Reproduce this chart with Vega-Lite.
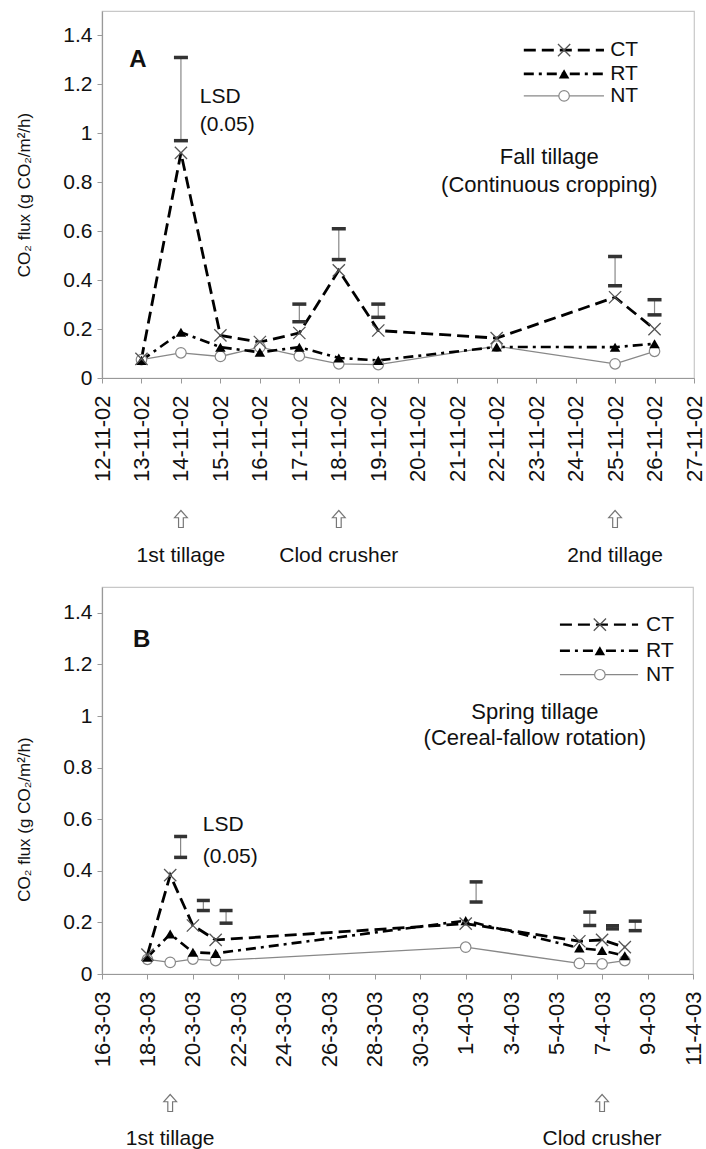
{
  "$schema": "https://vega.github.io/schema/vega-lite/v6.json",
  "padding": {"left": 15, "top": 10, "right": 5, "bottom": 0},
  "spacing": 19,
  "resolve": {"scale": {"x": "independent", "y": "independent"}},
  "config": {
    "font": "Liberation Sans",
    "view": {"stroke": "#c8c8c8", "strokeWidth": 1.2},
    "axis": {"domainColor": "#999999", "domainWidth": 1.2, "tickColor": "#999999", "labelColor": "#111111", "titleColor": "#111111", "titleFontWeight": "normal", "grid": false, "labelFont": "Liberation Sans", "titleFont": "Liberation Sans"},
    "axisX": {"labelOverlap": false, "labelSeparation": 0, "labelBound": false},
    "text": {"font": "Liberation Sans", "color": "#111111"}
  },
  "datasets": {
    "fluxA": [
      {"date": "2002-11-13T00:00", "series": "CT", "flux": 0.078},
      {"date": "2002-11-14T00:00", "series": "CT", "flux": 0.92},
      {"date": "2002-11-15T00:00", "series": "CT", "flux": 0.174},
      {"date": "2002-11-16T00:00", "series": "CT", "flux": 0.147},
      {"date": "2002-11-17T00:00", "series": "CT", "flux": 0.184},
      {"date": "2002-11-18T00:00", "series": "CT", "flux": 0.44},
      {"date": "2002-11-19T00:00", "series": "CT", "flux": 0.194},
      {"date": "2002-11-22T00:00", "series": "CT", "flux": 0.163},
      {"date": "2002-11-25T00:00", "series": "CT", "flux": 0.33},
      {"date": "2002-11-26T00:00", "series": "CT", "flux": 0.2},
      {"date": "2002-11-13T00:00", "series": "RT", "flux": 0.072},
      {"date": "2002-11-14T00:00", "series": "RT", "flux": 0.187},
      {"date": "2002-11-15T00:00", "series": "RT", "flux": 0.126},
      {"date": "2002-11-16T00:00", "series": "RT", "flux": 0.105},
      {"date": "2002-11-17T00:00", "series": "RT", "flux": 0.126},
      {"date": "2002-11-18T00:00", "series": "RT", "flux": 0.082},
      {"date": "2002-11-19T00:00", "series": "RT", "flux": 0.072},
      {"date": "2002-11-22T00:00", "series": "RT", "flux": 0.127},
      {"date": "2002-11-25T00:00", "series": "RT", "flux": 0.126},
      {"date": "2002-11-26T00:00", "series": "RT", "flux": 0.14},
      {"date": "2002-11-13T00:00", "series": "NT", "flux": 0.075},
      {"date": "2002-11-14T00:00", "series": "NT", "flux": 0.103},
      {"date": "2002-11-15T00:00", "series": "NT", "flux": 0.088},
      {"date": "2002-11-16T00:00", "series": "NT", "flux": 0.126},
      {"date": "2002-11-17T00:00", "series": "NT", "flux": 0.09},
      {"date": "2002-11-18T00:00", "series": "NT", "flux": 0.058},
      {"date": "2002-11-19T00:00", "series": "NT", "flux": 0.055},
      {"date": "2002-11-22T00:00", "series": "NT", "flux": 0.13},
      {"date": "2002-11-25T00:00", "series": "NT", "flux": 0.058},
      {"date": "2002-11-26T00:00", "series": "NT", "flux": 0.109}
    ],
    "lsdA": [
      {"date": "2002-11-14T00:00", "lo": 0.97, "hi": 1.31},
      {"date": "2002-11-17T00:00", "lo": 0.23, "hi": 0.302},
      {"date": "2002-11-18T00:00", "lo": 0.484, "hi": 0.61},
      {"date": "2002-11-19T00:00", "lo": 0.248, "hi": 0.302},
      {"date": "2002-11-25T00:00", "lo": 0.377, "hi": 0.497},
      {"date": "2002-11-26T00:00", "lo": 0.258, "hi": 0.32}
    ],
    "eventsA": [
      {"date": "2002-11-14T00:00", "label": "1st tillage"},
      {"date": "2002-11-18T00:00", "label": "Clod crusher"},
      {"date": "2002-11-25T00:00", "label": "2nd tillage"}
    ],
    "fluxB": [
      {"date": "2003-03-18T00:00", "series": "CT", "flux": 0.075},
      {"date": "2003-03-19T00:00", "series": "CT", "flux": 0.383},
      {"date": "2003-03-20T00:00", "series": "CT", "flux": 0.188},
      {"date": "2003-03-21T00:00", "series": "CT", "flux": 0.132},
      {"date": "2003-04-01T00:00", "series": "CT", "flux": 0.195},
      {"date": "2003-04-06T00:00", "series": "CT", "flux": 0.127},
      {"date": "2003-04-07T00:00", "series": "CT", "flux": 0.132},
      {"date": "2003-04-08T00:00", "series": "CT", "flux": 0.104},
      {"date": "2003-03-18T00:00", "series": "RT", "flux": 0.065},
      {"date": "2003-03-19T00:00", "series": "RT", "flux": 0.155},
      {"date": "2003-03-20T00:00", "series": "RT", "flux": 0.084},
      {"date": "2003-03-21T00:00", "series": "RT", "flux": 0.08},
      {"date": "2003-04-01T00:00", "series": "RT", "flux": 0.207},
      {"date": "2003-04-06T00:00", "series": "RT", "flux": 0.101},
      {"date": "2003-04-07T00:00", "series": "RT", "flux": 0.091},
      {"date": "2003-04-08T00:00", "series": "RT", "flux": 0.071},
      {"date": "2003-03-18T00:00", "series": "NT", "flux": 0.057},
      {"date": "2003-03-19T00:00", "series": "NT", "flux": 0.045},
      {"date": "2003-03-20T00:00", "series": "NT", "flux": 0.058},
      {"date": "2003-03-21T00:00", "series": "NT", "flux": 0.052},
      {"date": "2003-04-01T00:00", "series": "NT", "flux": 0.104},
      {"date": "2003-04-06T00:00", "series": "NT", "flux": 0.041},
      {"date": "2003-04-07T00:00", "series": "NT", "flux": 0.039},
      {"date": "2003-04-08T00:00", "series": "NT", "flux": 0.052}
    ],
    "lsdB": [
      {"date": "2003-03-19T11:00", "lo": 0.452, "hi": 0.533},
      {"date": "2003-03-20T11:00", "lo": 0.246, "hi": 0.285},
      {"date": "2003-03-21T11:00", "lo": 0.197, "hi": 0.246},
      {"date": "2003-04-01T11:00", "lo": 0.279, "hi": 0.357},
      {"date": "2003-04-06T11:00", "lo": 0.188, "hi": 0.24},
      {"date": "2003-04-07T11:00", "lo": 0.175, "hi": 0.187},
      {"date": "2003-04-08T11:00", "lo": 0.168, "hi": 0.205}
    ],
    "eventsB": [
      {"date": "2003-03-19T00:00", "label": "1st tillage"},
      {"date": "2003-04-07T00:00", "label": "Clod crusher"}
    ],
    "legend": [
      {"series": "CT", "label": "CT"},
      {"series": "RT", "label": "RT"},
      {"series": "NT", "label": "NT"}
    ]
  },
  "vconcat": [
    {
      "width": 592,
      "height": 367,
      "layer": [
        {
          "data": {"name": "fluxA"},
          "transform": [{"filter": "datum.series === 'NT'"}],
          "mark": {"type": "line", "color": "#888888", "strokeWidth": 1.3},
          "encoding": {
            "x": {"field": "date", "type": "temporal",
              "scale": {"domain": [{"year": 2002, "month": 11, "date": 12}, {"year": 2002, "month": 11, "date": 27}], "nice": false},
              "axis": {"title": null, "format": "%-d-%-m-%y", "labelAngle": -90, "labelFontSize": 22, "tickSize": 5, "labelPadding": 12, "labelFlush": false, "labelOverlap": false, "labelSeparation": 0,
                "tickCount": {"interval": "day", "step": 1},
                "values": [
                  {"year": 2002, "month": 11, "date": 12}, {"year": 2002, "month": 11, "date": 13}, {"year": 2002, "month": 11, "date": 14}, {"year": 2002, "month": 11, "date": 15},
                  {"year": 2002, "month": 11, "date": 16}, {"year": 2002, "month": 11, "date": 17}, {"year": 2002, "month": 11, "date": 18}, {"year": 2002, "month": 11, "date": 19},
                  {"year": 2002, "month": 11, "date": 20}, {"year": 2002, "month": 11, "date": 21}, {"year": 2002, "month": 11, "date": 22}, {"year": 2002, "month": 11, "date": 23},
                  {"year": 2002, "month": 11, "date": 24}, {"year": 2002, "month": 11, "date": 25}, {"year": 2002, "month": 11, "date": 26}, {"year": 2002, "month": 11, "date": 27}
                ]}},
            "y": {"field": "flux", "type": "quantitative",
              "scale": {"domain": [0, 1.5], "nice": false},
              "axis": {"values": [0, 0.2, 0.4, 0.6, 0.8, 1, 1.2, 1.4], "format": "~g", "title": "CO₂ flux (g CO₂/m²/h)", "titleFontSize": 17, "titlePadding": 29, "labelFontSize": 21, "tickSize": 5, "labelPadding": 5}}
          }
        },
        {
          "data": {"name": "fluxA"},
          "transform": [{"filter": "datum.series === 'RT'"}],
          "mark": {"type": "line", "color": "#000000", "strokeWidth": 2.6, "strokeDash": [10, 5, 3, 5]},
          "encoding": {"x": {"field": "date", "type": "temporal"}, "y": {"field": "flux", "type": "quantitative"}}
        },
        {
          "data": {"name": "fluxA"},
          "transform": [{"filter": "datum.series === 'CT'"}],
          "mark": {"type": "line", "color": "#000000", "strokeWidth": 2.8, "strokeDash": [12, 6]},
          "encoding": {"x": {"field": "date", "type": "temporal"}, "y": {"field": "flux", "type": "quantitative"}}
        },
        {
          "data": {"name": "fluxA"},
          "transform": [{"filter": "datum.series === 'NT'"}],
          "mark": {"type": "point", "shape": "circle", "size": 110, "fill": "#ffffff", "stroke": "#888888", "strokeWidth": 1.2, "opacity": 1, "filled": true},
          "encoding": {"x": {"field": "date", "type": "temporal"}, "y": {"field": "flux", "type": "quantitative"}}
        },
        {
          "data": {"name": "fluxA"},
          "transform": [{"filter": "datum.series === 'RT'"}],
          "mark": {"type": "point", "shape": "triangle-up", "size": 110, "color": "#000000", "opacity": 1, "filled": true},
          "encoding": {"x": {"field": "date", "type": "temporal"}, "y": {"field": "flux", "type": "quantitative"}}
        },
        {
          "data": {"name": "fluxA"},
          "transform": [{"filter": "datum.series === 'CT'"}],
          "mark": {"type": "point", "shape": "M-1,-1L1,1M-1,1L1,-1", "size": 150, "stroke": "#555555", "strokeWidth": 1.3, "opacity": 1, "filled": false},
          "encoding": {"x": {"field": "date", "type": "temporal"}, "y": {"field": "flux", "type": "quantitative"}}
        },
        {
          "data": {"name": "lsdA"},
          "mark": {"type": "rule", "color": "#888888", "strokeWidth": 1.2},
          "encoding": {"x": {"field": "date", "type": "temporal"}, "y": {"field": "lo", "type": "quantitative"}, "y2": {"field": "hi"}}
        },
        {
          "data": {"name": "lsdA"},
          "mark": {"type": "tick", "orient": "horizontal", "color": "#333333", "size": 14, "thickness": 3.5, "opacity": 1},
          "encoding": {"x": {"field": "date", "type": "temporal"}, "y": {"field": "lo", "type": "quantitative"}}
        },
        {
          "data": {"name": "lsdA"},
          "mark": {"type": "tick", "orient": "horizontal", "color": "#333333", "size": 14, "thickness": 3.5, "opacity": 1},
          "encoding": {"x": {"field": "date", "type": "temporal"}, "y": {"field": "hi", "type": "quantitative"}}
        },
        {
          "data": {"name": "eventsA"},
          "mark": {"type": "point", "shape": "M0,-1L0.75,-0.15L0.28,-0.15L0.28,1L-0.28,1L-0.28,-0.15L-0.75,-0.15Z", "size": 289, "fill": "#ffffff", "stroke": "#777777", "strokeWidth": 1.2, "opacity": 1, "filled": true, "yOffset": 141},
          "encoding": {"x": {"field": "date", "type": "temporal"}, "y": {"datum": 0, "type": "quantitative"}}
        },
        {
          "data": {"name": "eventsA"},
          "mark": {"type": "text", "fontSize": 21, "align": "center", "baseline": "middle", "dy": 178},
          "encoding": {"x": {"field": "date", "type": "temporal"}, "y": {"datum": 0, "type": "quantitative"}, "text": {"field": "label"}}
        },
        {
          "data": {"values": [{}]},
          "mark": {"type": "text", "fontSize": 24, "fontWeight": "bold", "align": "left", "baseline": "middle"},
          "encoding": {"x": {"datum": {"year": 2002, "month": 11, "date": 12, "hours": 16, "minutes": 30}, "type": "temporal"}, "y": {"datum": 1.298, "type": "quantitative"}, "text": {"value": "A"}}
        },
        {
          "data": {"values": [{}]},
          "mark": {"type": "text", "fontSize": 21, "align": "left", "baseline": "middle", "lineHeight": 28},
          "encoding": {"x": {"datum": {"year": 2002, "month": 11, "date": 14, "hours": 11, "minutes": 30}, "type": "temporal"}, "y": {"datum": 1.148, "type": "quantitative"}, "text": {"value": ["LSD", "(0.05)"]}}
        },
        {
          "data": {"values": [{}]},
          "mark": {"type": "text", "fontSize": 22, "align": "center", "baseline": "middle", "lineHeight": 28},
          "encoding": {"x": {"datum": {"year": 2002, "month": 11, "date": 23, "hours": 8}, "type": "temporal"}, "y": {"datum": 0.904, "type": "quantitative"}, "text": {"value": ["Fall tillage", "(Continuous cropping)"]}}
        },
        {
          "data": {"name": "legend"},
          "transform": [{"filter": "datum.series === 'CT'"}],
          "mark": {"type": "rule", "color": "#000000", "strokeWidth": 2.6, "strokeDash": [12, 6]},
          "encoding": {"x": {"datum": {"year": 2002, "month": 11, "date": 22, "hours": 16, "minutes": 30}, "type": "temporal"}, "x2": {"datum": {"year": 2002, "month": 11, "date": 24, "hours": 17, "minutes": 15}}, "y": {"datum": 1.34, "type": "quantitative"}}
        },
        {
          "data": {"name": "legend"},
          "transform": [{"filter": "datum.series === 'RT'"}],
          "mark": {"type": "rule", "color": "#000000", "strokeWidth": 2.6, "strokeDash": [10, 5, 3, 5]},
          "encoding": {"x": {"datum": {"year": 2002, "month": 11, "date": 22, "hours": 16, "minutes": 30}, "type": "temporal"}, "x2": {"datum": {"year": 2002, "month": 11, "date": 24, "hours": 17, "minutes": 15}}, "y": {"datum": 1.243, "type": "quantitative"}}
        },
        {
          "data": {"name": "legend"},
          "transform": [{"filter": "datum.series === 'NT'"}],
          "mark": {"type": "rule", "color": "#888888", "strokeWidth": 1.3},
          "encoding": {"x": {"datum": {"year": 2002, "month": 11, "date": 22, "hours": 16, "minutes": 30}, "type": "temporal"}, "x2": {"datum": {"year": 2002, "month": 11, "date": 24, "hours": 17, "minutes": 15}}, "y": {"datum": 1.153, "type": "quantitative"}}
        },
        {
          "data": {"name": "legend"},
          "transform": [{"filter": "datum.series === 'CT'"}],
          "mark": {"type": "point", "shape": "M-1,-1L1,1M-1,1L1,-1", "size": 150, "stroke": "#555555", "strokeWidth": 1.3, "opacity": 1, "filled": false},
          "encoding": {"x": {"datum": {"year": 2002, "month": 11, "date": 23, "hours": 17}, "type": "temporal"}, "y": {"datum": 1.34, "type": "quantitative"}}
        },
        {
          "data": {"name": "legend"},
          "transform": [{"filter": "datum.series === 'RT'"}],
          "mark": {"type": "point", "shape": "triangle-up", "size": 110, "color": "#000000", "opacity": 1, "filled": true},
          "encoding": {"x": {"datum": {"year": 2002, "month": 11, "date": 23, "hours": 17}, "type": "temporal"}, "y": {"datum": 1.243, "type": "quantitative"}}
        },
        {
          "data": {"name": "legend"},
          "transform": [{"filter": "datum.series === 'NT'"}],
          "mark": {"type": "point", "shape": "circle", "size": 110, "fill": "#ffffff", "stroke": "#888888", "strokeWidth": 1.2, "opacity": 1, "filled": true},
          "encoding": {"x": {"datum": {"year": 2002, "month": 11, "date": 23, "hours": 17}, "type": "temporal"}, "y": {"datum": 1.153, "type": "quantitative"}}
        },
        {
          "data": {"name": "legend"},
          "transform": [{"filter": "datum.series === 'CT'"}],
          "mark": {"type": "text", "fontSize": 21, "align": "left", "baseline": "middle"},
          "encoding": {"x": {"datum": {"year": 2002, "month": 11, "date": 24, "hours": 21}, "type": "temporal"}, "y": {"datum": 1.34, "type": "quantitative"}, "text": {"field": "label"}}
        },
        {
          "data": {"name": "legend"},
          "transform": [{"filter": "datum.series === 'RT'"}],
          "mark": {"type": "text", "fontSize": 21, "align": "left", "baseline": "middle"},
          "encoding": {"x": {"datum": {"year": 2002, "month": 11, "date": 24, "hours": 21}, "type": "temporal"}, "y": {"datum": 1.243, "type": "quantitative"}, "text": {"field": "label"}}
        },
        {
          "data": {"name": "legend"},
          "transform": [{"filter": "datum.series === 'NT'"}],
          "mark": {"type": "text", "fontSize": 21, "align": "left", "baseline": "middle"},
          "encoding": {"x": {"datum": {"year": 2002, "month": 11, "date": 24, "hours": 21}, "type": "temporal"}, "y": {"datum": 1.153, "type": "quantitative"}, "text": {"field": "label"}}
        }
      ]
    },
    {
      "width": 591,
      "height": 387,
      "layer": [
        {
          "data": {"name": "fluxB"},
          "transform": [{"filter": "datum.series === 'NT'"}],
          "mark": {"type": "line", "color": "#888888", "strokeWidth": 1.3},
          "encoding": {
            "x": {"field": "date", "type": "temporal",
              "scale": {"domain": [{"year": 2003, "month": 3, "date": 16}, {"year": 2003, "month": 4, "date": 11}], "nice": false},
              "axis": {"title": null, "format": "%-d-%-m-%y", "labelAngle": -90, "labelFontSize": 22, "tickSize": 5, "labelPadding": 12, "labelFlush": false, "labelOverlap": false, "labelSeparation": 0,
                "values": [
                  {"year": 2003, "month": 3, "date": 16}, {"year": 2003, "month": 3, "date": 18}, {"year": 2003, "month": 3, "date": 20}, {"year": 2003, "month": 3, "date": 22},
                  {"year": 2003, "month": 3, "date": 24}, {"year": 2003, "month": 3, "date": 26}, {"year": 2003, "month": 3, "date": 28}, {"year": 2003, "month": 3, "date": 30},
                  {"year": 2003, "month": 4, "date": 1}, {"year": 2003, "month": 4, "date": 3}, {"year": 2003, "month": 4, "date": 5}, {"year": 2003, "month": 4, "date": 7},
                  {"year": 2003, "month": 4, "date": 9}, {"year": 2003, "month": 4, "date": 11}
                ]}},
            "y": {"field": "flux", "type": "quantitative",
              "scale": {"domain": [0, 1.5], "nice": false},
              "axis": {"values": [0, 0.2, 0.4, 0.6, 0.8, 1, 1.2, 1.4], "format": "~g", "title": "CO₂ flux (g CO₂/m²/h)", "titleFontSize": 17, "titlePadding": 29, "titleY": 232, "labelFontSize": 21, "tickSize": 5, "labelPadding": 5}}
          }
        },
        {
          "data": {"name": "fluxB"},
          "transform": [{"filter": "datum.series === 'RT'"}],
          "mark": {"type": "line", "color": "#000000", "strokeWidth": 2.6, "strokeDash": [10, 5, 3, 5]},
          "encoding": {"x": {"field": "date", "type": "temporal"}, "y": {"field": "flux", "type": "quantitative"}}
        },
        {
          "data": {"name": "fluxB"},
          "transform": [{"filter": "datum.series === 'CT'"}],
          "mark": {"type": "line", "color": "#000000", "strokeWidth": 2.8, "strokeDash": [12, 6]},
          "encoding": {"x": {"field": "date", "type": "temporal"}, "y": {"field": "flux", "type": "quantitative"}}
        },
        {
          "data": {"name": "fluxB"},
          "transform": [{"filter": "datum.series === 'NT'"}],
          "mark": {"type": "point", "shape": "circle", "size": 110, "fill": "#ffffff", "stroke": "#888888", "strokeWidth": 1.2, "opacity": 1, "filled": true},
          "encoding": {"x": {"field": "date", "type": "temporal"}, "y": {"field": "flux", "type": "quantitative"}}
        },
        {
          "data": {"name": "fluxB"},
          "transform": [{"filter": "datum.series === 'RT'"}],
          "mark": {"type": "point", "shape": "triangle-up", "size": 110, "color": "#000000", "opacity": 1, "filled": true},
          "encoding": {"x": {"field": "date", "type": "temporal"}, "y": {"field": "flux", "type": "quantitative"}}
        },
        {
          "data": {"name": "fluxB"},
          "transform": [{"filter": "datum.series === 'CT'"}],
          "mark": {"type": "point", "shape": "M-1,-1L1,1M-1,1L1,-1", "size": 150, "stroke": "#555555", "strokeWidth": 1.3, "opacity": 1, "filled": false},
          "encoding": {"x": {"field": "date", "type": "temporal"}, "y": {"field": "flux", "type": "quantitative"}}
        },
        {
          "data": {"name": "lsdB"},
          "mark": {"type": "rule", "color": "#888888", "strokeWidth": 1.2},
          "encoding": {"x": {"field": "date", "type": "temporal"}, "y": {"field": "lo", "type": "quantitative"}, "y2": {"field": "hi"}}
        },
        {
          "data": {"name": "lsdB"},
          "mark": {"type": "tick", "orient": "horizontal", "color": "#333333", "size": 13, "thickness": 3.5, "opacity": 1},
          "encoding": {"x": {"field": "date", "type": "temporal"}, "y": {"field": "lo", "type": "quantitative"}}
        },
        {
          "data": {"name": "lsdB"},
          "mark": {"type": "tick", "orient": "horizontal", "color": "#333333", "size": 13, "thickness": 3.5, "opacity": 1},
          "encoding": {"x": {"field": "date", "type": "temporal"}, "y": {"field": "hi", "type": "quantitative"}}
        },
        {
          "data": {"name": "eventsB"},
          "mark": {"type": "point", "shape": "M0,-1L0.75,-0.15L0.28,-0.15L0.28,1L-0.28,1L-0.28,-0.15L-0.75,-0.15Z", "size": 289, "fill": "#ffffff", "stroke": "#777777", "strokeWidth": 1.2, "opacity": 1, "filled": true, "yOffset": 129},
          "encoding": {"x": {"field": "date", "type": "temporal"}, "y": {"datum": 0, "type": "quantitative"}}
        },
        {
          "data": {"name": "eventsB"},
          "mark": {"type": "text", "fontSize": 21, "align": "center", "baseline": "middle", "dy": 165},
          "encoding": {"x": {"field": "date", "type": "temporal"}, "y": {"datum": 0, "type": "quantitative"}, "text": {"field": "label"}}
        },
        {
          "data": {"values": [{}]},
          "mark": {"type": "text", "fontSize": 24, "fontWeight": "bold", "align": "left", "baseline": "middle"},
          "encoding": {"x": {"datum": {"year": 2003, "month": 3, "date": 17, "hours": 8, "minutes": 40}, "type": "temporal"}, "y": {"datum": 1.296, "type": "quantitative"}, "text": {"value": "B"}}
        },
        {
          "data": {"values": [{}]},
          "mark": {"type": "text", "fontSize": 21, "align": "left", "baseline": "middle", "lineHeight": 32},
          "encoding": {"x": {"datum": {"year": 2003, "month": 3, "date": 20, "hours": 10, "minutes": 30}, "type": "temporal"}, "y": {"datum": 0.576, "type": "quantitative"}, "text": {"value": ["LSD", "(0.05)"]}}
        },
        {
          "data": {"values": [{}]},
          "mark": {"type": "text", "fontSize": 22, "align": "center", "baseline": "middle", "lineHeight": 26},
          "encoding": {"x": {"datum": {"year": 2003, "month": 4, "date": 4, "hours": 1}, "type": "temporal"}, "y": {"datum": 1.016, "type": "quantitative"}, "text": {"value": ["Spring tillage", "(Cereal-fallow rotation)"]}}
        },
        {
          "data": {"name": "legend"},
          "transform": [{"filter": "datum.series === 'CT'"}],
          "mark": {"type": "rule", "color": "#000000", "strokeWidth": 2.2, "strokeDash": [12, 6]},
          "encoding": {"x": {"datum": {"year": 2003, "month": 4, "date": 5, "hours": 3, "minutes": 30}, "type": "temporal"}, "x2": {"datum": {"year": 2003, "month": 4, "date": 8, "hours": 14}}, "y": {"datum": 1.354, "type": "quantitative"}}
        },
        {
          "data": {"name": "legend"},
          "transform": [{"filter": "datum.series === 'RT'"}],
          "mark": {"type": "rule", "color": "#000000", "strokeWidth": 2.6, "strokeDash": [10, 5, 3, 5]},
          "encoding": {"x": {"datum": {"year": 2003, "month": 4, "date": 5, "hours": 3, "minutes": 30}, "type": "temporal"}, "x2": {"datum": {"year": 2003, "month": 4, "date": 8, "hours": 14}}, "y": {"datum": 1.253, "type": "quantitative"}}
        },
        {
          "data": {"name": "legend"},
          "transform": [{"filter": "datum.series === 'NT'"}],
          "mark": {"type": "rule", "color": "#888888", "strokeWidth": 1.3},
          "encoding": {"x": {"datum": {"year": 2003, "month": 4, "date": 5, "hours": 3, "minutes": 30}, "type": "temporal"}, "x2": {"datum": {"year": 2003, "month": 4, "date": 8, "hours": 14}}, "y": {"datum": 1.16, "type": "quantitative"}}
        },
        {
          "data": {"name": "legend"},
          "transform": [{"filter": "datum.series === 'CT'"}],
          "mark": {"type": "point", "shape": "M-1,-1L1,1M-1,1L1,-1", "size": 150, "stroke": "#555555", "strokeWidth": 1.3, "opacity": 1, "filled": false},
          "encoding": {"x": {"datum": {"year": 2003, "month": 4, "date": 6, "hours": 21, "minutes": 40}, "type": "temporal"}, "y": {"datum": 1.354, "type": "quantitative"}}
        },
        {
          "data": {"name": "legend"},
          "transform": [{"filter": "datum.series === 'RT'"}],
          "mark": {"type": "point", "shape": "triangle-up", "size": 110, "color": "#000000", "opacity": 1, "filled": true},
          "encoding": {"x": {"datum": {"year": 2003, "month": 4, "date": 6, "hours": 21, "minutes": 40}, "type": "temporal"}, "y": {"datum": 1.253, "type": "quantitative"}}
        },
        {
          "data": {"name": "legend"},
          "transform": [{"filter": "datum.series === 'NT'"}],
          "mark": {"type": "point", "shape": "circle", "size": 110, "fill": "#ffffff", "stroke": "#888888", "strokeWidth": 1.2, "opacity": 1, "filled": true},
          "encoding": {"x": {"datum": {"year": 2003, "month": 4, "date": 6, "hours": 21, "minutes": 40}, "type": "temporal"}, "y": {"datum": 1.16, "type": "quantitative"}}
        },
        {
          "data": {"name": "legend"},
          "transform": [{"filter": "datum.series === 'CT'"}],
          "mark": {"type": "text", "fontSize": 21, "align": "left", "baseline": "middle"},
          "encoding": {"x": {"datum": {"year": 2003, "month": 4, "date": 8, "hours": 22, "minutes": 20}, "type": "temporal"}, "y": {"datum": 1.354, "type": "quantitative"}, "text": {"field": "label"}}
        },
        {
          "data": {"name": "legend"},
          "transform": [{"filter": "datum.series === 'RT'"}],
          "mark": {"type": "text", "fontSize": 21, "align": "left", "baseline": "middle"},
          "encoding": {"x": {"datum": {"year": 2003, "month": 4, "date": 8, "hours": 22, "minutes": 20}, "type": "temporal"}, "y": {"datum": 1.253, "type": "quantitative"}, "text": {"field": "label"}}
        },
        {
          "data": {"name": "legend"},
          "transform": [{"filter": "datum.series === 'NT'"}],
          "mark": {"type": "text", "fontSize": 21, "align": "left", "baseline": "middle"},
          "encoding": {"x": {"datum": {"year": 2003, "month": 4, "date": 8, "hours": 22, "minutes": 20}, "type": "temporal"}, "y": {"datum": 1.16, "type": "quantitative"}, "text": {"field": "label"}}
        }
      ]
    }
  ]
}
